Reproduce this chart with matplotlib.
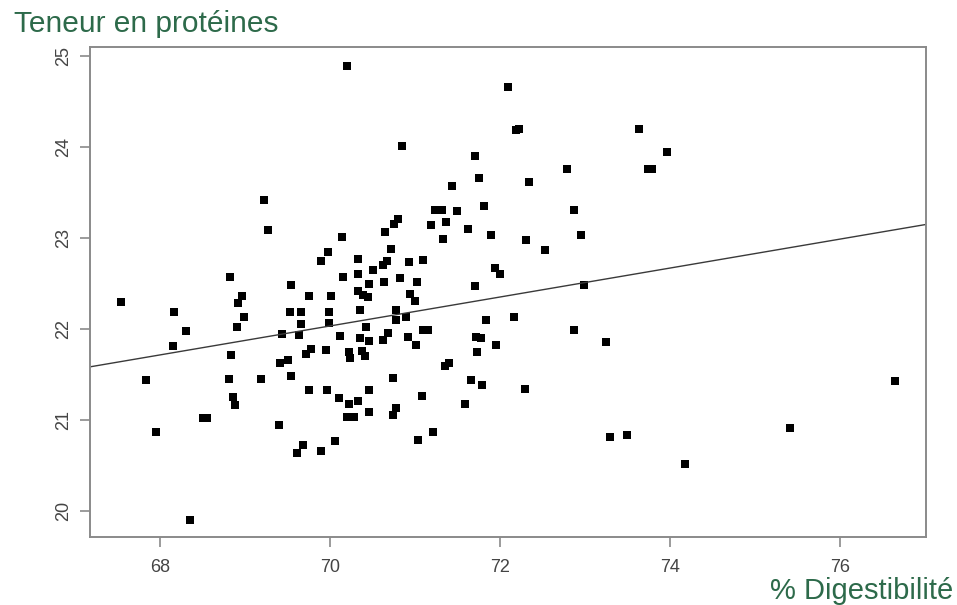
import matplotlib
matplotlib.use("Agg")
import numpy as np
import matplotlib.pyplot as plt

# % digestibilite (x) et teneur en proteines (y)
digestibilite = [
    67.54, 67.84, 67.96, 68.17, 68.16, 68.31, 68.36, 68.51, 68.56, 68.83,
    68.97, 68.92, 68.99, 68.91, 68.84, 68.82, 68.86, 68.88, 69.19, 69.23,
    69.27, 69.40, 69.42, 69.51, 69.44, 69.54, 69.53, 69.54, 69.66, 69.66,
    69.64, 69.72, 69.78, 69.76, 69.76, 69.62, 69.69, 69.90, 70.06, 69.90,
    69.98, 69.95, 69.97, 69.99, 69.99, 70.02, 70.14, 70.15, 70.12, 70.11,
    70.20, 70.22, 70.24, 70.22, 70.20, 70.28, 70.33, 70.33, 70.33, 70.33,
    70.39, 70.45, 70.36, 70.43, 70.35, 70.46, 70.38, 70.41, 70.46, 70.46,
    70.46, 70.51, 70.62, 70.67, 70.72, 70.65, 70.76, 70.80, 70.64, 70.82,
    70.85, 70.78, 70.78, 70.90, 70.62, 70.68, 70.74, 70.74, 70.78, 70.93,
    70.92, 71.01, 71.00, 70.94, 71.03, 71.09, 71.08, 71.04, 71.10, 71.16,
    71.19, 71.21, 71.24, 71.32, 71.37, 71.33, 71.35, 71.40, 71.44, 71.50,
    71.59, 71.62, 71.66, 71.71, 71.71, 71.72, 71.73, 71.76, 71.78, 71.79,
    71.81, 71.84, 71.89, 71.94, 72.00, 71.96, 72.10, 72.17, 72.19, 72.23,
    72.29, 72.31, 72.34, 72.53, 72.79, 72.87, 72.87, 72.95, 72.99, 73.25,
    73.29, 73.50, 73.63, 73.74, 73.79, 73.97, 74.18, 75.41, 76.64,
]
proteines = [
    22.29, 21.44, 20.86, 22.18, 21.81, 21.97, 19.90, 21.02, 21.02, 22.57,
    22.36, 22.28, 22.13, 22.02, 21.71, 21.45, 21.25, 21.16, 21.45, 23.41,
    23.08, 20.94, 21.62, 21.65, 21.94, 22.48, 22.18, 21.48, 22.18, 22.05,
    21.93, 21.72, 21.78, 22.36, 21.33, 20.63, 20.72, 20.65, 20.76, 22.74,
    22.84, 21.76, 21.33, 22.18, 22.06, 22.36, 23.01, 22.57, 21.92, 21.24,
    24.89, 21.74, 21.68, 21.17, 21.03, 21.03, 21.21, 22.76, 22.60, 22.41,
    22.37, 22.35, 22.21, 22.02, 21.90, 21.86, 21.75, 21.70, 21.33, 21.08,
    22.49, 22.64, 22.70, 22.74, 22.88, 23.06, 23.15, 23.20, 22.51, 22.56,
    24.01, 22.20, 22.10, 22.13, 21.88, 21.95, 21.46, 21.05, 21.13, 22.73,
    21.91, 21.82, 22.30, 22.38, 22.51, 22.75, 21.26, 20.78, 21.98, 21.98,
    23.14, 20.86, 23.30, 23.30, 23.17, 22.99, 21.59, 21.62, 23.57, 23.29,
    21.17, 23.10, 21.44, 23.90, 22.47, 21.91, 21.74, 23.66, 21.90, 21.38,
    23.35, 22.09, 23.03, 22.67, 22.60, 21.82, 24.66, 22.13, 24.18, 24.19,
    21.34, 22.97, 23.61, 22.86, 23.76, 23.30, 21.99, 23.03, 22.48, 21.85,
    20.81, 20.83, 24.19, 23.75, 23.75, 23.94, 20.51, 20.91, 21.42,
]

# droite de regression (ordonnee a l'origine, pente)
reg_intercept = 10.885
reg_slope = 0.1592

x_ticks = [68, 70, 72, 74, 76]
y_ticks = [20, 21, 22, 23, 24, 25]

green = "#2d6a4a"
grey = "#8a8a8a"
plt.rcParams["font.family"] = ["Liberation Sans", "DejaVu Sans"]

fig = plt.figure(figsize=(9.57, 6.05), dpi=100)
ax = fig.add_axes([0.094, 0.1124, 0.8736, 0.8091])

ax.plot(digestibilite, proteines, linestyle="none", marker="s",
        markersize=6.4, color="black", markeredgewidth=0)

xlim = (67.18, 77.01)
xs = np.array(xlim)
ax.plot(xs, reg_intercept + reg_slope * xs, color="#3a3a3a", linewidth=1.0)

ax.set_xlim(*xlim)
ax.set_ylim(19.71, 25.09)
ax.set_xticks(x_ticks)
ax.set_yticks(y_ticks)
ax.set_xticklabels([str(t) for t in x_ticks])
ax.set_yticklabels([str(t) for t in y_ticks], rotation=90, va="center")

for s in ax.spines.values():
    s.set_color(grey)
    s.set_linewidth(1.4)
ax.tick_params(axis="both", colors=grey, labelcolor="#444444",
               labelsize=13, length=7, width=1.2)
ax.tick_params(axis="x", pad=9)
ax.tick_params(axis="y", pad=6)

fig.text(14 / 957, 1 - 32.5 / 605, "Teneur en protéines", color=green,
         fontsize=21.5, ha="left", va="baseline")
fig.text(953 / 957, 1 - 599 / 605, "% Digestibilité", color=green,
         fontsize=21, ha="right", va="baseline")

fig.savefig("out.png", dpi=100)
